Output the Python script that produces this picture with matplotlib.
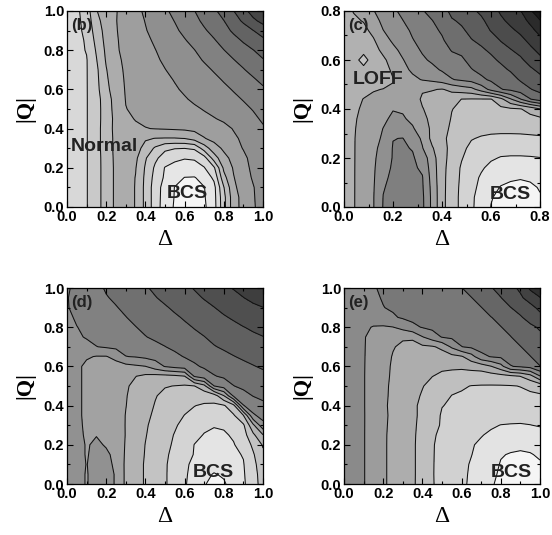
import numpy as np
import matplotlib
matplotlib.use("Agg")
import matplotlib.pyplot as plt
from matplotlib.ticker import MultipleLocator

# axis grids (Delta along x, |Q| along y)
delta_full = [0.0, 0.05, 0.1, 0.15, 0.2, 0.25, 0.3, 0.35, 0.4, 0.45, 0.5,
              0.55, 0.6, 0.65, 0.7, 0.75, 0.8, 0.85, 0.9, 0.95, 1.0]
q_full = delta_full
delta_c = [0.0, 0.04, 0.08, 0.12, 0.16, 0.2, 0.24, 0.28, 0.32, 0.36, 0.4,
           0.44, 0.48, 0.52, 0.56, 0.6, 0.64, 0.68, 0.72, 0.76, 0.8]
q_c = delta_c

# energy level (contour index), rows = |Q|, cols = Delta
grid_b = [
    [2.0, 2.2, 2.45, 3.12, 3.95, 4.7, 4.95, 4.45, 3.25, 2.0, 1.0, 0.4, 0.15, 0.05, 0.35, 1.1, 3.17, 5.1, 5.83, 6.39, 6.9],
    [2.0, 2.2, 2.45, 3.12, 3.95, 4.7, 4.95, 4.45, 3.25, 2.0, 1.05, 0.45, 0.22, 0.15, 0.42, 1.15, 3.2, 5.1, 5.85, 6.42, 6.92],
    [2.0, 2.2, 2.45, 3.12, 3.95, 4.7, 4.95, 4.45, 3.25, 2.0, 1.1, 0.47, 0.35, 0.3, 0.47, 1.2, 3.45, 5.3, 5.95, 6.45, 6.95],
    [2.0, 2.2, 2.45, 3.12, 3.95, 4.7, 4.95, 4.47, 3.3, 2.15, 1.35, 0.85, 0.48, 0.45, 0.85, 1.7, 4.17, 5.45, 6.1, 6.6, 7.0],
    [2.0, 2.2, 2.45, 3.12, 3.95, 4.7, 4.95, 4.55, 3.4, 2.33, 1.45, 1.2, 1.1, 1.15, 1.45, 2.35, 4.7, 5.6, 6.2, 6.7, 7.1],
    [2.0, 2.2, 2.45, 3.12, 3.97, 4.72, 4.97, 4.7, 3.6, 2.7, 2.05, 1.7, 1.55, 1.6, 2.1, 4.0, 5.2, 5.8, 6.3, 6.8, 7.2],
    [2.0, 2.2, 2.45, 3.15, 4.0, 4.75, 5.0, 4.85, 4.2, 3.35, 2.7, 2.55, 2.52, 2.65, 4.0, 5.07, 5.68, 6.14, 6.55, 6.9, 7.2],
    [2.0, 2.2, 2.45, 3.15, 4.0, 4.75, 5.02, 5.05, 4.6, 4.48, 4.45, 4.45, 4.52, 4.9, 5.45, 5.79, 6.07, 6.36, 6.65, 7.0, 7.3],
    [2.0, 2.2, 2.45, 3.15, 4.0, 4.8, 5.15, 5.33, 5.47, 5.53, 5.57, 5.62, 5.67, 5.75, 5.88, 6.05, 6.25, 6.55, 6.85, 7.15, 7.42],
    [2.0, 2.2, 2.45, 3.15, 3.95, 4.8, 5.3, 5.55, 5.66, 5.77, 5.89, 6.0, 6.11, 6.23, 6.34, 6.45, 6.64, 6.88, 7.12, 7.36, 7.6],
    [2.0, 2.2, 2.45, 3.15, 3.95, 4.9, 5.48, 5.63, 5.76, 5.88, 6.01, 6.14, 6.27, 6.4, 6.54, 6.74, 6.94, 7.14, 7.34, 7.54, 7.8],
    [2.0, 2.2, 2.45, 3.15, 4.0, 4.95, 5.53, 5.68, 5.83, 5.98, 6.14, 6.29, 6.44, 6.61, 6.8, 6.98, 7.17, 7.35, 7.54, 7.8, 8.05],
    [2.0, 2.2, 2.45, 3.2, 4.25, 5.0, 5.57, 5.74, 5.91, 6.08, 6.25, 6.42, 6.6, 6.78, 6.97, 7.16, 7.35, 7.55, 7.8, 8.05, 8.35],
    [2.0, 2.2, 2.45, 3.25, 4.35, 5.1, 5.6, 5.78, 5.97, 6.16, 6.35, 6.54, 6.74, 6.94, 7.14, 7.34, 7.56, 7.83, 8.11, 8.39, 8.75],
    [2.0, 2.2, 2.45, 3.3, 4.45, 5.2, 5.63, 5.85, 6.07, 6.28, 6.48, 6.71, 6.92, 7.13, 7.33, 7.56, 7.85, 8.15, 8.44, 8.8, 9.1],
    [2.0, 2.25, 2.45, 3.45, 4.6, 5.3, 5.67, 5.9, 6.14, 6.38, 6.62, 6.85, 7.08, 7.31, 7.56, 7.86, 8.17, 8.47, 8.8, 9.15, 9.45],
    [2.0, 2.25, 2.55, 3.6, 4.7, 5.4, 5.71, 5.97, 6.24, 6.48, 6.75, 7.0, 7.25, 7.48, 7.83, 8.17, 8.48, 8.83, 9.17, 9.48, 9.8],
    [2.0, 2.25, 2.6, 3.8, 4.8, 5.42, 5.75, 6.04, 6.33, 6.61, 6.89, 7.17, 7.44, 7.77, 8.1, 8.43, 8.82, 9.22, 9.6, 9.95, 10.3],
    [2.0, 2.25, 2.75, 4.0, 4.85, 5.45, 5.8, 6.1, 6.45, 6.75, 7.05, 7.35, 7.7, 8.05, 8.4, 8.75, 9.2, 9.65, 10.05, 10.48, 10.95],
    [2.0, 2.25, 2.9, 4.2, 4.95, 5.47, 5.85, 6.2, 6.53, 6.87, 7.2, 7.53, 7.9, 8.28, 8.67, 9.08, 9.48, 10.1, 10.65, 11.3, 11.8],
    [2.0, 2.3, 3.0, 4.45, 5.0, 5.45, 5.88, 6.27, 6.64, 7.0, 7.36, 7.73, 8.12, 8.48, 8.92, 9.33, 9.88, 10.48, 11.2, 11.9, 12.4],
]

grid_c = [
    [4.0, 4.45, 4.97, 5.45, 6.55, 6.77, 7.0, 6.9, 6.7, 5.25, 3.79, 2.95, 2.27, 1.65, 1.07, 0.48, 0.25, 0.1, 0.0, 0.12, 0.35],
    [4.0, 4.45, 4.97, 5.45, 6.52, 6.75, 6.95, 6.88, 6.68, 5.25, 3.79, 2.95, 2.27, 1.67, 1.1, 0.55, 0.32, 0.2, 0.15, 0.25, 0.45],
    [4.0, 4.45, 4.95, 5.42, 6.45, 6.7, 6.85, 6.8, 6.6, 5.2, 3.8, 2.97, 2.3, 1.72, 1.3, 0.8, 0.45, 0.35, 0.3, 0.38, 0.55],
    [4.0, 4.45, 4.95, 5.38, 6.35, 6.65, 6.8, 6.75, 6.55, 5.1, 3.8, 3.0, 2.35, 1.8, 1.4, 1.05, 0.75, 0.6, 0.55, 0.6, 0.75],
    [4.0, 4.45, 4.93, 5.35, 6.2, 6.6, 6.72, 6.65, 6.35, 5.0, 3.85, 3.0, 2.4, 1.95, 1.6, 1.3, 1.1, 0.98, 0.95, 1.0, 1.1],
    [4.0, 4.45, 4.9, 5.3, 6.05, 6.55, 6.65, 6.6, 6.1, 4.9, 3.85, 3.15, 2.55, 2.15, 1.85, 1.6, 1.45, 1.42, 1.42, 1.44, 1.48],
    [4.0, 4.45, 4.88, 5.25, 5.85, 6.55, 6.6, 6.45, 5.55, 4.6, 3.8, 3.25, 2.7, 2.3, 2.05, 1.9, 1.8, 1.78, 1.78, 1.8, 1.85],
    [4.0, 4.45, 4.85, 5.15, 5.65, 6.48, 6.52, 6.0, 5.35, 4.2, 3.7, 3.25, 2.9, 2.55, 2.42, 2.35, 2.33, 2.33, 2.33, 2.35, 2.38],
    [4.0, 4.43, 4.8, 5.05, 5.52, 6.0, 6.0, 5.6, 5.0, 4.3, 3.8, 3.35, 3.05, 2.85, 2.75, 2.7, 2.68, 2.68, 2.7, 2.75, 2.8],
    [4.0, 4.4, 4.72, 4.95, 5.3, 5.7, 5.6, 5.3, 4.75, 4.25, 3.85, 3.45, 3.25, 3.1, 3.02, 3.0, 3.02, 3.05, 3.1, 3.2, 3.3],
    [4.0, 4.35, 4.62, 4.8, 5.1, 5.45, 5.4, 5.1, 4.55, 4.15, 3.8, 3.52, 3.35, 3.25, 3.2, 3.22, 3.27, 3.35, 3.45, 3.85, 4.45],
    [3.95, 4.3, 4.52, 4.65, 4.85, 5.05, 5.15, 5.0, 4.35, 4.2, 3.9, 4.0, 3.48, 3.45, 3.45, 3.45, 4.2, 5.4, 6.45, 7.45, 8.0],
    [3.9, 4.15, 4.3, 4.45, 4.52, 4.6, 5.02, 4.95, 4.6, 4.55, 4.45, 4.7, 5.0, 5.2, 5.9, 6.8, 7.45, 7.7, 8.0, 8.45, 8.75],
    [3.85, 3.95, 3.9, 4.0, 4.2, 4.45, 5.05, 5.3, 5.55, 5.7, 5.95, 6.45, 6.65, 6.85, 7.3, 7.65, 7.85, 8.1, 8.6, 8.9, 9.25],
    [3.8, 3.8, 3.65, 3.85, 4.05, 4.7, 5.25, 5.65, 6.0, 6.25, 6.6, 6.85, 7.0, 7.45, 7.75, 8.0, 8.25, 8.6, 9.0, 9.35, 9.7],
    [3.8, 3.7, 3.3, 3.75, 4.3, 4.95, 5.45, 5.95, 6.35, 6.65, 6.95, 7.2, 7.35, 7.8, 8.1, 8.3, 8.65, 9.05, 9.35, 9.8, 10.25],
    [3.85, 3.8, 3.65, 4.1, 4.75, 5.25, 5.75, 6.2, 6.6, 6.9, 7.15, 7.55, 7.7, 8.1, 8.35, 8.65, 9.05, 9.45, 9.75, 10.25, 10.75],
    [3.9, 3.95, 3.95, 4.4, 5.1, 5.65, 6.0, 6.45, 6.8, 7.1, 7.4, 7.85, 8.0, 8.45, 8.7, 9.0, 9.55, 9.85, 10.2, 10.75, 11.25],
    [4.0, 4.15, 4.25, 4.75, 5.48, 5.9, 6.2, 6.65, 7.0, 7.3, 7.6, 8.1, 8.35, 8.75, 9.0, 9.55, 9.95, 10.3, 10.7, 11.2, 11.8],
    [4.1, 4.35, 4.55, 5.1, 5.75, 6.1, 6.48, 6.85, 7.25, 7.48, 7.8, 8.4, 8.65, 9.05, 9.35, 9.8, 10.3, 10.75, 11.1, 11.7, 12.45],
    [4.2, 4.55, 4.9, 5.45, 5.95, 6.35, 6.7, 7.05, 7.45, 7.75, 8.1, 8.75, 8.95, 9.35, 9.65, 10.05, 10.65, 11.2, 11.45, 12.3, 13.2],
]

grid_d = [
    [6.0, 5.75, 5.45, 5.8, 5.7, 5.45, 4.3, 3.9, 3.4, 3.0, 2.6, 2.1, 1.6, 1.1, 0.6, 0.1, 0.4, 0.85, 1.35, 2.1, 2.9],
    [6.0, 5.75, 5.45, 5.8, 5.7, 5.45, 4.3, 3.9, 3.4, 3.0, 2.6, 2.1, 1.65, 1.15, 0.7, 0.45, 0.6, 0.95, 1.4, 2.15, 2.95],
    [6.0, 5.75, 5.48, 5.75, 5.65, 5.4, 4.3, 3.9, 3.4, 3.0, 2.6, 2.15, 1.7, 1.25, 0.95, 0.8, 0.9, 1.2, 1.45, 2.25, 3.05],
    [6.0, 5.75, 5.45, 5.7, 5.6, 5.35, 4.35, 3.9, 3.45, 3.05, 2.65, 2.25, 1.85, 1.45, 1.2, 1.1, 1.15, 1.35, 1.55, 2.4, 3.3],
    [6.0, 5.75, 5.45, 5.6, 5.45, 5.3, 4.4, 3.95, 3.48, 3.1, 2.75, 2.35, 2.0, 1.48, 1.3, 1.25, 1.3, 1.45, 1.85, 2.7, 3.6],
    [6.0, 5.7, 5.4, 5.48, 5.4, 5.2, 4.45, 4.0, 3.55, 3.15, 2.8, 2.45, 2.1, 1.75, 1.45, 1.35, 1.4, 1.6, 2.1, 3.3, 4.45],
    [6.0, 5.7, 5.35, 5.3, 5.25, 5.1, 4.45, 4.05, 3.6, 3.25, 2.9, 2.6, 2.25, 1.95, 1.7, 1.55, 1.6, 1.85, 2.35, 4.3, 6.2],
    [6.0, 5.7, 5.3, 5.2, 5.1, 4.95, 4.47, 4.1, 3.7, 3.35, 3.05, 2.8, 2.48, 2.3, 2.2, 2.15, 2.2, 2.4, 3.48, 6.35, 6.85],
    [6.0, 5.7, 5.3, 5.1, 5.0, 4.85, 4.52, 4.15, 3.8, 3.45, 3.15, 2.95, 2.75, 2.52, 2.4, 2.35, 2.4, 3.2, 6.45, 7.0, 7.32],
    [6.0, 5.7, 5.3, 5.1, 5.0, 4.85, 4.55, 4.2, 3.85, 3.55, 3.3, 3.15, 3.0, 2.9, 2.85, 2.95, 4.45, 6.67, 7.2, 7.53, 7.68],
    [6.0, 5.7, 5.3, 5.1, 5.0, 4.85, 4.6, 4.3, 4.0, 3.75, 3.55, 3.48, 3.4, 3.48, 4.2, 6.48, 6.95, 7.48, 7.69, 7.84, 7.98],
    [6.0, 5.7, 5.3, 5.1, 5.0, 4.9, 4.75, 4.52, 4.3, 4.2, 4.2, 4.3, 4.48, 6.6, 7.05, 7.45, 7.63, 7.82, 8.0, 8.15, 8.29],
    [6.0, 5.7, 5.3, 5.15, 5.1, 5.1, 5.2, 5.35, 5.48, 6.0, 6.55, 6.8, 6.97, 7.37, 7.62, 7.78, 7.97, 8.15, 8.31, 8.46, 8.6],
    [6.0, 5.8, 5.6, 5.45, 5.45, 5.8, 6.48, 6.55, 6.7, 6.83, 7.02, 7.28, 7.55, 7.72, 7.91, 8.09, 8.3, 8.47, 8.62, 8.75, 8.87],
    [6.0, 6.05, 6.2, 6.48, 6.6, 6.7, 6.8, 6.95, 7.1, 7.3, 7.48, 7.7, 7.85, 8.05, 8.2, 8.45, 8.61, 8.76, 8.9, 9.03, 9.16],
    [6.1, 6.35, 6.58, 6.73, 6.88, 7.02, 7.17, 7.32, 7.47, 7.64, 7.81, 7.98, 8.16, 8.33, 8.48, 8.7, 8.95, 9.1, 9.25, 9.37, 9.48],
    [6.2, 6.48, 6.68, 6.85, 7.0, 7.15, 7.32, 7.48, 7.67, 7.84, 8.02, 8.19, 8.36, 8.54, 8.73, 8.92, 9.12, 9.31, 9.48, 9.62, 9.75],
    [6.3, 6.62, 6.8, 6.95, 7.1, 7.3, 7.48, 7.68, 7.86, 8.04, 8.21, 8.39, 8.58, 8.79, 9.0, 9.21, 9.42, 9.6, 9.8, 10.0, 10.2],
    [6.45, 6.7, 6.9, 7.1, 7.28, 7.46, 7.65, 7.85, 8.04, 8.23, 8.42, 8.63, 8.85, 9.07, 9.28, 9.48, 9.7, 9.9, 10.1, 10.3, 10.48],
    [6.45, 6.8, 7.05, 7.3, 7.45, 7.62, 7.83, 8.04, 8.25, 8.46, 8.67, 8.89, 9.1, 9.33, 9.55, 9.75, 10.0, 10.25, 10.48, 10.75, 11.0],
    [6.4, 6.7, 7.0, 7.3, 7.58, 7.79, 8.0, 8.21, 8.42, 8.64, 8.86, 9.09, 9.32, 9.55, 9.8, 10.05, 10.3, 10.55, 10.8, 11.05, 11.3],
]

grid_e = [
    [6.0, 5.8, 5.55, 5.1, 4.63, 4.27, 3.95, 3.63, 3.15, 2.56, 2.24, 1.96, 1.67, 1.35, 0.96, 0.58, 0.33, 0.1, 0.02, 0.1, 0.25],
    [6.0, 5.8, 5.55, 5.1, 4.63, 4.27, 3.95, 3.63, 3.17, 2.55, 2.25, 1.97, 1.69, 1.38, 1.0, 0.65, 0.4, 0.2, 0.12, 0.18, 0.3],
    [6.0, 5.8, 5.55, 5.1, 4.63, 4.27, 3.95, 3.63, 3.17, 2.55, 2.27, 2.0, 1.72, 1.42, 1.1, 0.78, 0.45, 0.32, 0.27, 0.32, 0.42],
    [6.0, 5.8, 5.55, 5.1, 4.63, 4.27, 3.95, 3.63, 3.17, 2.55, 2.3, 2.05, 1.78, 1.52, 1.2, 0.9, 0.55, 0.45, 0.4, 0.45, 0.6],
    [6.0, 5.8, 5.55, 5.1, 4.63, 4.27, 3.95, 3.63, 3.17, 2.55, 2.33, 2.1, 1.85, 1.57, 1.35, 1.1, 0.85, 0.7, 0.65, 0.7, 0.8],
    [6.0, 5.8, 5.55, 5.1, 4.63, 4.28, 3.96, 3.64, 3.2, 2.58, 2.38, 2.17, 1.95, 1.75, 1.55, 1.35, 1.15, 1.02, 0.98, 1.02, 1.1],
    [6.0, 5.8, 5.55, 5.12, 4.65, 4.3, 3.98, 3.66, 3.25, 2.65, 2.45, 2.27, 2.1, 1.95, 1.8, 1.62, 1.48, 1.44, 1.42, 1.48, 1.58],
    [6.0, 5.8, 5.55, 5.13, 4.67, 4.32, 4.0, 3.68, 3.3, 2.81, 2.43, 2.3, 2.2, 2.1, 2.02, 1.95, 1.9, 1.87, 1.86, 1.88, 1.93],
    [6.0, 5.8, 5.55, 5.1, 4.65, 4.3, 4.0, 3.68, 3.3, 2.9, 2.52, 2.42, 2.35, 2.28, 2.22, 2.18, 2.15, 2.13, 2.13, 2.15, 2.2],
    [6.0, 5.8, 5.55, 5.1, 4.67, 4.33, 4.05, 3.8, 3.4, 3.05, 2.8, 2.48, 2.42, 2.38, 2.35, 2.33, 2.32, 2.32, 2.33, 2.36, 2.4],
    [6.0, 5.8, 5.55, 5.1, 4.68, 4.35, 4.1, 3.85, 3.55, 3.2, 2.95, 2.75, 2.58, 2.48, 2.45, 2.44, 2.44, 2.46, 2.52, 2.68, 2.86],
    [6.0, 5.8, 5.55, 5.1, 4.72, 4.38, 4.15, 3.9, 3.7, 3.52, 3.3, 3.15, 3.05, 3.0, 3.0, 3.05, 3.15, 3.3, 3.52, 4.1, 5.45],
    [6.0, 5.8, 5.55, 5.15, 4.75, 4.4, 4.2, 4.0, 3.88, 3.8, 3.7, 3.7, 3.7, 3.85, 3.95, 4.45, 5.15, 6.45, 6.63, 6.85, 7.48],
    [6.0, 5.8, 5.55, 5.2, 4.8, 4.45, 4.25, 4.1, 4.05, 4.05, 4.1, 4.2, 4.4, 5.1, 6.25, 6.55, 6.67, 6.83, 7.07, 7.48, 7.78],
    [6.0, 5.8, 5.55, 5.25, 4.85, 4.55, 4.35, 4.3, 4.32, 4.4, 4.7, 5.67, 6.48, 6.67, 6.83, 7.0, 7.17, 7.33, 7.48, 7.75, 8.05],
    [6.0, 5.8, 5.55, 5.3, 5.0, 4.8, 4.6, 4.6, 5.45, 6.0, 6.55, 6.67, 6.8, 6.95, 7.1, 7.25, 7.38, 7.48, 7.75, 8.0, 8.3],
    [6.0, 5.85, 5.65, 5.45, 5.4, 5.48, 5.83, 6.3, 6.55, 6.72, 6.83, 6.95, 7.05, 7.15, 7.28, 7.38, 7.48, 7.7, 7.95, 8.3, 8.62],
    [6.0, 5.9, 5.85, 5.9, 6.1, 6.4, 6.6, 6.7, 6.8, 6.9, 7.0, 7.1, 7.2, 7.3, 7.4, 7.48, 7.7, 7.95, 8.4, 8.85, 9.2],
    [6.0, 6.05, 6.15, 6.3, 6.48, 6.6, 6.7, 6.8, 6.88, 6.95, 7.05, 7.15, 7.25, 7.37, 7.48, 7.82, 8.15, 8.48, 8.85, 9.2, 9.75],
    [6.0, 6.08, 6.2, 6.38, 6.55, 6.67, 6.77, 6.87, 6.95, 7.05, 7.15, 7.27, 7.38, 7.48, 7.82, 8.15, 8.47, 9.0, 9.35, 9.9, 10.45],
    [6.0, 6.1, 6.25, 6.45, 6.6, 6.7, 6.82, 6.93, 7.05, 7.16, 7.27, 7.38, 7.48, 7.81, 8.12, 8.44, 8.83, 9.25, 9.67, 10.67, 11.3],
]

panel_tags = ["(b)", "(c)", "(d)", "(e)"]
phase_labels = [
    [("Normal", 0.02, 0.31), ("BCS", 0.51, 0.07)],
    [("LOFF", 0.035, 0.52), ("BCS", 0.595, 0.05)],
    [("BCS", 0.64, 0.06)],
    [("BCS", 0.75, 0.06)],
]
axis_max = [1.0, 0.8, 1.0, 1.0]
tick_labels_full = ["0.0", "0.2", "0.4", "0.6", "0.8", "1.0"]
tick_labels_c = ["0.0", "0.2", "0.4", "0.6", "0.8"]

grids = [grid_b, grid_c, grid_d, grid_e]
deltas = [delta_full, delta_c, delta_full, delta_full]
qs = [q_full, q_c, q_full, q_full]
gray_step = [0.057, 0.066, 0.065, 0.07]

W, H = 552, 535
boxes = [(67, 11), (344, 11), (67, 288), (344, 288)]  # left, top in pixels
size = 196

fig = plt.figure(figsize=(W / 100, H / 100), dpi=100)
levels = np.arange(-0.5, 15.0, 1.0)

for i in range(4):
    left, top = boxes[i]
    ax = fig.add_axes([left / W, 1 - (top + size) / H, size / W, size / H])
    z = np.array(grids[i])
    nb = len(levels) - 1
    cols = [str(max(0.1, 0.96 - gray_step[i] * k)) for k in range(nb)]
    ax.contourf(deltas[i], qs[i], z, levels=levels, colors=cols)
    ax.contour(deltas[i], qs[i], z, levels=levels[1:-1], colors="#111111",
               linewidths=0.75)

    m = axis_max[i]
    ax.set_xlim(0, m)
    ax.set_ylim(0, m)
    ticks = [0.0, 0.2, 0.4, 0.6, 0.8, 1.0] if m == 1.0 else [0.0, 0.2, 0.4, 0.6, 0.8]
    labs = tick_labels_full if m == 1.0 else tick_labels_c
    ax.set_xticks(ticks)
    ax.set_xticklabels(labs)
    ax.set_yticks(ticks)
    ax.set_yticklabels(labs)
    ax.xaxis.set_minor_locator(MultipleLocator(0.1))
    ax.yaxis.set_minor_locator(MultipleLocator(0.1))
    ax.tick_params(which="both", direction="in", top=True, right=True,
                   width=0.8, pad=2)
    ax.tick_params(which="major", length=4)
    ax.tick_params(which="minor", length=2)
    for lab in ax.get_xticklabels() + ax.get_yticklabels():
        lab.set_fontfamily("Liberation Sans")
        lab.set_fontweight("bold")
        lab.set_fontsize(10.5)
    for sp in ax.spines.values():
        sp.set_linewidth(0.9)

    ax.set_xlabel("Δ", fontfamily="Liberation Serif", fontsize=17, labelpad=4)
    ax.set_ylabel("|Q|", fontfamily="Liberation Serif", fontweight="bold",
                  fontsize=16, labelpad=6)

    ax.text(0.02 * m, 0.965 * m, panel_tags[i], fontfamily="Liberation Sans",
            fontweight="bold", fontsize=12, color="#222222", va="top", ha="left")
    for txt, x, y in phase_labels[i]:
        ax.text(x, y, txt, fontfamily="Liberation Sans", fontweight="bold",
                fontsize=14, color="#222222", va="center", ha="left")

fig.savefig("out.png", dpi=100)
